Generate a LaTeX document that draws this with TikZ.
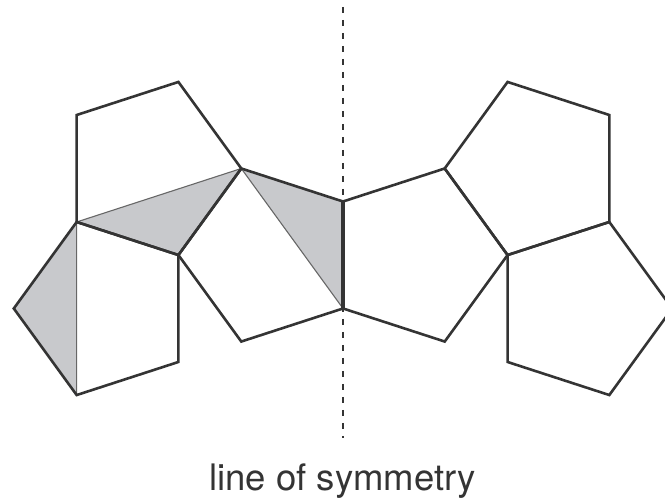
\documentclass[tikz,border=0pt]{standalone}
\usepackage{fontspec}
\setmainfont{TeX Gyre Heros}
\usetikzlibrary{calc}
\definecolor{inkgray}{RGB}{52,52,52}
\definecolor{tintgray}{RGB}{200,201,204}
\tikzset{
  pentedge/.style={draw=inkgray, line width=2.6pt},
  diag/.style={draw=inkgray!75, line width=1.1pt},
  tint/.style={fill=tintgray},
  symline/.style={draw=inkgray, line width=2pt, dash pattern=on 6pt off 7pt},
}

\begin{document}
\begin{tikzpicture}[x=1pt,y=1pt]
  \useasboundingbox (0,0) rectangle (665,503);
  \clip (0,0) rectangle (665,503);
  % centres of the pentagons (circumradius 91)
  \coordinate (cM) at (269.4,248);
  \coordinate (cT) at (150.3,334.5);
  \coordinate (cB) at (104.8,194.5);
  \coordinate (cMr) at (416.6,248);
  \coordinate (cTr) at (535.7,334.5);
  \coordinate (cBr) at (581.2,194.5);
  % left half
  \coordinate (A) at ($(cT)+(144:91)$);
  \coordinate (B) at ($(cT)+(72:91)$);
  \coordinate (C) at ($(cT)+(0:91)$);
  \coordinate (D) at ($(cT)+(-144:91)$);
  \coordinate (E) at ($(cT)+(-72:91)$);
  \coordinate (F) at ($(cB)+(180:91)$);
  \coordinate (G) at ($(cB)+(-108:91)$);
  \coordinate (H) at ($(cB)+(-36:91)$);
  \coordinate (I) at ($(cM)+(36:91)$);
  \coordinate (J) at ($(cM)+(-36:91)$);
  \coordinate (K) at ($(cM)+(-108:91)$);
  % right half (mirror)
  \coordinate (Ar) at ($(cTr)+(36:91)$);
  \coordinate (Br) at ($(cTr)+(108:91)$);
  \coordinate (Cr) at ($(cTr)+(180:91)$);
  \coordinate (Dr) at ($(cTr)+(-36:91)$);
  \coordinate (Er) at ($(cTr)+(-108:91)$);
  \coordinate (Fr) at ($(cBr)+(0:91)$);
  \coordinate (Gr) at ($(cBr)+(-72:91)$);
  \coordinate (Hr) at ($(cBr)+(-144:91)$);
  \coordinate (Kr) at ($(cMr)+(-72:91)$);
  % shaded triangles
  \fill[tint] (D) -- (C) -- (E) -- cycle;
  \fill[tint] (C) -- (I) -- (J) -- cycle;
  \fill[tint] (D) -- (F) -- (G) -- cycle;
  \draw[diag] (D) -- (C) (C) -- (J) (D) -- (G);
  % pentagons
  \draw[pentedge] (A) -- (B) -- (C) -- (E) -- (D) -- cycle;
  \draw[pentedge] (D) -- (E) -- (H) -- (G) -- (F) -- cycle;
  \draw[pentedge] (C) -- (I) -- (J) -- (K) -- (E) -- cycle;
  \draw[pentedge] (Ar) -- (Br) -- (Cr) -- (Er) -- (Dr) -- cycle;
  \draw[pentedge] (Dr) -- (Er) -- (Hr) -- (Gr) -- (Fr) -- cycle;
  \draw[pentedge] (Cr) -- (I) -- (J) -- (Kr) -- (Er) -- cycle;
  \draw[pentedge, line width=3.6pt] (I) -- (J);
  % axis
  \coordinate (axtop) at (343,496);
  \coordinate (axbot) at (343,65);
  \draw[symline] (axtop) -- (axbot);
  \node[anchor=base, text=inkgray, inner sep=0pt,
        font=\fontsize{36.5}{40}\selectfont] (caption) at (342.5,12) {line of symmetry};
\end{tikzpicture}
\end{document}
